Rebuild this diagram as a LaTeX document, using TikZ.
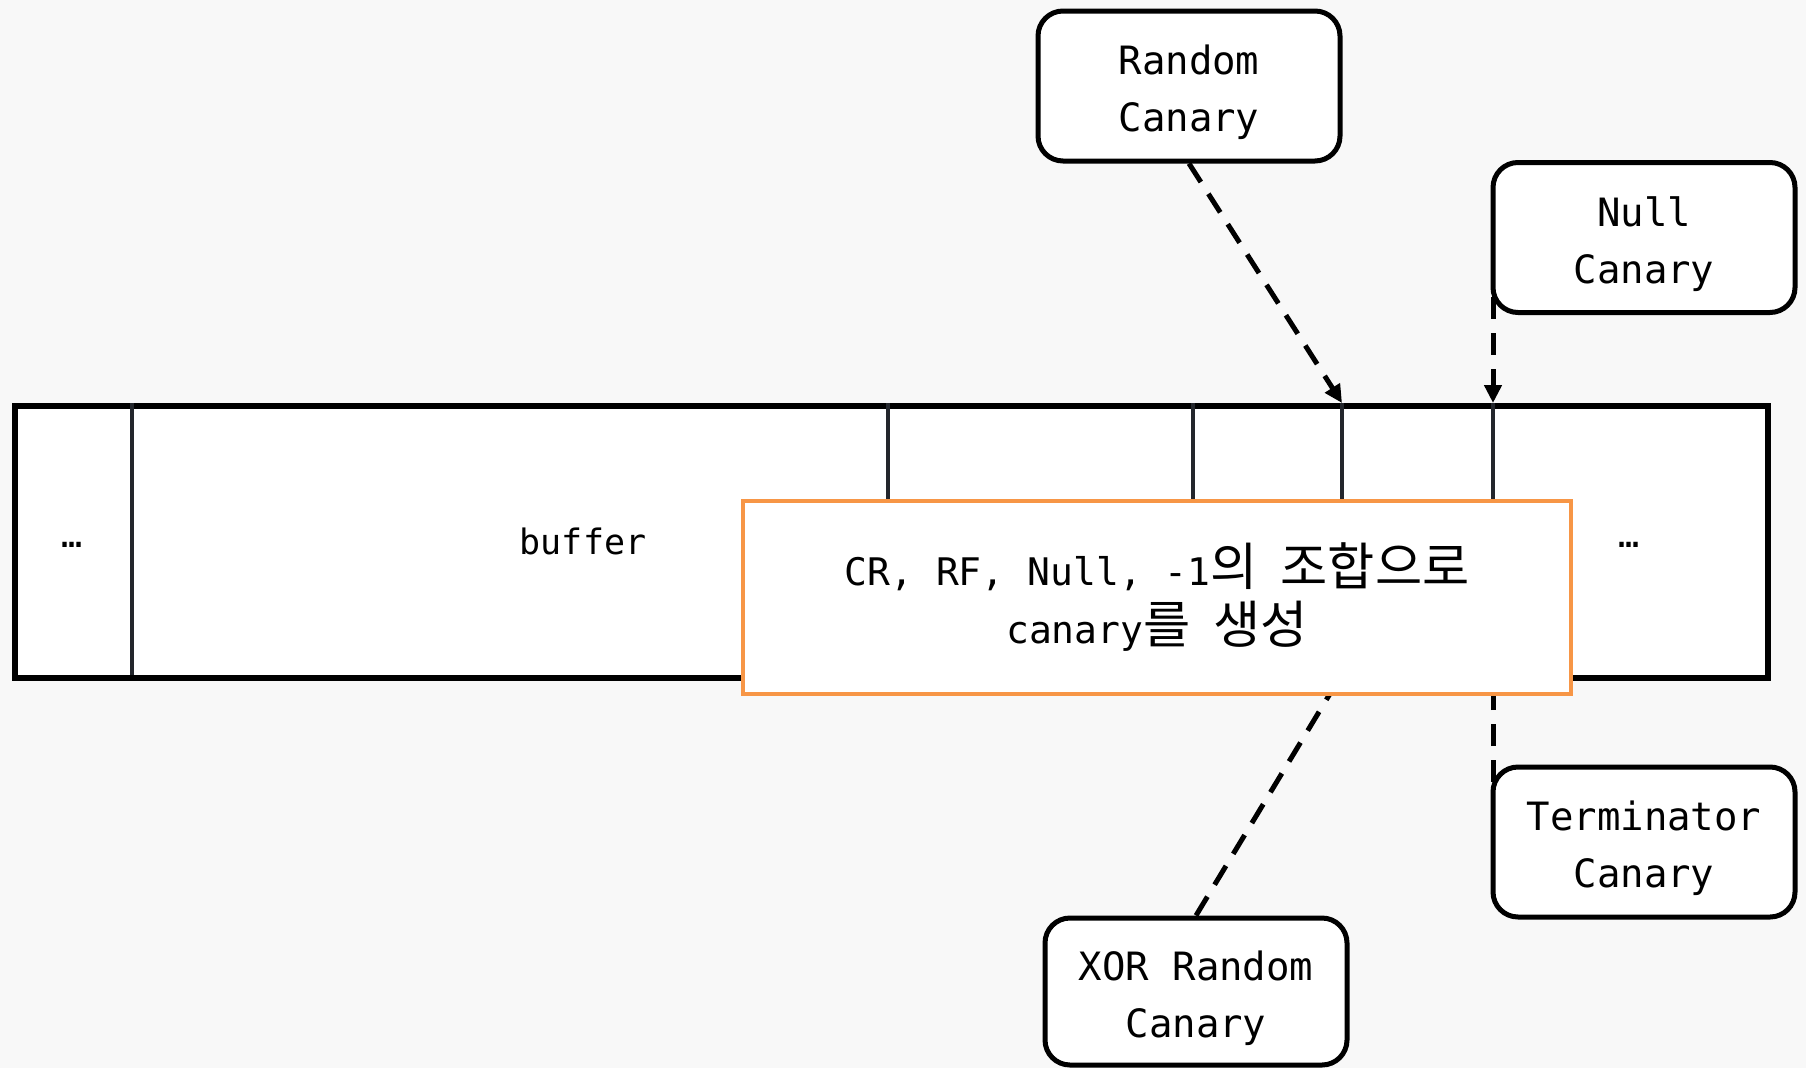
\documentclass[tikz,border=0pt]{standalone}
\usepackage{fontspec}
\setmainfont{DejaVu Sans Mono}
\newfontfamily\krfont[Scale=1.35]{Noto Sans CJK KR}
\usetikzlibrary{arrows.meta}
\definecolor{bg}{HTML}{F8F8F8}
\definecolor{orng}{HTML}{F79646}
\definecolor{divc}{HTML}{23262C}
\begin{document}
\begin{tikzpicture}[x=1pt,y=-1pt,
  canary/.style={draw=black, line width=5pt, fill=white, rounded corners=25pt,
    minimum width=302pt, minimum height=150pt, inner sep=0pt, align=center,
    text height=100pt, text depth=9pt,
    font=\fontsize{39}{57}\selectfont},
  celltext/.style={inner sep=0pt, font=\fontsize{35}{42}\selectfont},
  divider/.style={draw=divc, line width=4pt},
  conn/.style={draw=black, line width=5pt, dash pattern=on 22pt off 14pt,
    -{Triangle[length=18pt,width=17pt]}},
  note/.style={draw=orng, line width=4.5pt, fill=white, minimum width=828pt,
    minimum height=193pt, inner sep=0pt, align=center,
    font=\fontsize{38}{58}\selectfont}]
\path[fill=bg] (0,0) rectangle (1806,1068);
\useasboundingbox (0,0) rectangle (1806,1068);
% memory bar
\node[draw=black, line width=6pt, fill=white, minimum width=1753.5pt,
  minimum height=272pt, inner sep=0pt, anchor=north west] (bar) at (11.5,403) {};
\coordinate (d1t) at (132,403);  \coordinate (d1b) at (132,675);
\coordinate (d2t) at (888,403);  \coordinate (d2b) at (888,675);
\coordinate (d3t) at (1193,403); \coordinate (d3b) at (1193,675);
\coordinate (d4t) at (1342,403); \coordinate (d4b) at (1342,675);
\coordinate (d5t) at (1493,403); \coordinate (d5b) at (1493,675);
\path[divider] (d1t) -- (d1b);
\path[divider] (d2t) -- (d2b);
\path[divider] (d3t) -- (d3b);
\path[divider] (d4t) -- (d4b);
\path[divider] (d5t) -- (d5b);
\node[celltext] (dotsl) at (72,545) {…};
\node[celltext] (buf) at (583,541) {buffer};
\node[celltext] (dotsr) at (1629,545) {…};
% canary boxes
\node[canary] (rand) at (1189,86) {Random\\Canary};
\node[canary] (null) at (1644,237.5) {Null\\Canary};
\node[canary] (term) at (1644,842) {Terminator\\Canary};
\node[canary, minimum height=147pt] (xor) at (1196,991.5) {XOR Random\\Canary};
% connectors
\coordinate (nullstart) at (1493,297);
\coordinate (termstart) at (1493,782);
\coordinate (xortip) at (1447,500);
\path[conn] (rand.south) -- (d4t);
\path[conn] (nullstart) -- (d5t);
\path[conn] (termstart) -- (d5b);
\path[conn] (xor.north) -- (xortip);
% note
\node[note] (note) at (1157,597.5) {CR, RF, Null, -1{\krfont 의} {\krfont 조합으로}\\canary{\krfont 를} {\krfont 생성}};
\end{tikzpicture}
\end{document}
